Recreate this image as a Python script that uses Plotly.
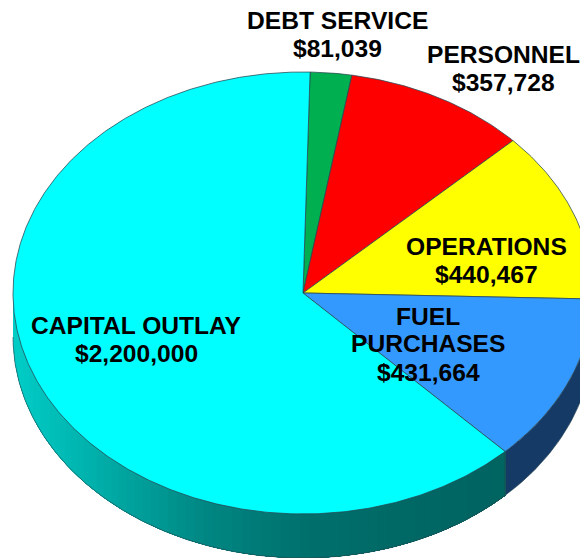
import numpy as np
import plotly.graph_objects as go

categories = ["DEBT SERVICE", "PERSONNEL", "OPERATIONS", "FUEL PURCHASES", "CAPITAL OUTLAY"]
values = [81039, 357728, 440467, 431664, 2200000]
value_labels = ["$81,039", "$357,728", "$440,467", "$431,664", "$2,200,000"]
colors = ["#00b050", "#ff0000", "#ffff00", "#3399ff", "#00ffff"]

# Projection of the tilted disc, in picture pixels
CX, CY, RX, RY, DEPTH = 303.0, 293.0, 290.0, 221.0, 44.0
START_DEG = 1.4
EDGE = "rgba(40,70,80,0.75)"


def ex(t):
    return CX + RX * np.sin(np.radians(t))


def ey(t, drop=0.0):
    return CY - RY * np.cos(np.radians(t)) + drop


def arc(a, b):
    n = max(3, int(abs(b - a) * 2))
    return np.linspace(a, b, n)


shares = np.array(values, dtype=float) / sum(values)
ends = START_DEG + np.cumsum(shares) * 360.0
starts = ends - shares * 360.0

fig = go.Figure()


def side(a, b, color):
    t = arc(a, b)
    xs = np.r_[ex(t), ex(t[::-1])]
    ys = np.r_[ey(t), ey(t[::-1], DEPTH)]
    fig.add_trace(go.Scatter(
        x=np.r_[xs, xs[0]], y=np.r_[ys, ys[0]], mode="lines", fill="toself",
        fillcolor=color, hoverinfo="skip", showlegend=False,
        line=dict(color=color, width=0),
    ))


# Fuel wall: visible from the rim's right extreme to its boundary with capital
side(90, ends[3], "#163a66")

# Capital wall: layered from light (left) to dark (right) so no seams show
shade_stops_x = [13, 100, 200, 300, 400, 503]
shade_stops_g = [205, 172, 135, 112, 104, 100]
bands = np.linspace(270, ends[3], 70)
for b in bands[:-1]:
    xm = ex(b)
    g = np.interp(xm, shade_stops_x, shade_stops_g)
    side(ends[3], b, f"rgb(0,{g:.0f},{g * 0.97:.0f})")

# Outline of the wall's lower rim and the seam between the two walls
t = arc(90, 270)
fig.add_trace(go.Scatter(x=ex(t), y=ey(t, DEPTH), mode="lines", hoverinfo="skip",
                         showlegend=False, line=dict(color="rgba(40,70,80,0.6)", width=1)))
seam = ends[3]
fig.add_trace(go.Scatter(x=[ex(seam), ex(seam)], y=[ey(seam), ey(seam, DEPTH)], mode="lines",
                         hoverinfo="skip", showlegend=False, line=dict(color=EDGE, width=1)))

# Top face wedges
for name, val, s, e, c in zip(categories, values, starts, ends, colors):
    t = arc(s, e)
    fig.add_trace(go.Scatter(
        x=np.r_[CX, ex(t), CX], y=np.r_[CY, ey(t), CY], mode="lines", fill="toself",
        fillcolor=c, line=dict(color=EDGE, width=1), name=name,
        text=f"{name}: ${val:,}", hoverinfo="text", showlegend=False,
    ))

# One annotation per text line, because the reference's line spacing is tight
label_lines = [
    (337, 20, "DEBT SERVICE"), (337, 48, value_labels[0]),
    (503, 54, "PERSONNEL"), (503, 82, value_labels[1]),
    (486, 246, "OPERATIONS"), (486, 274, value_labels[2]),
    (428, 316, "FUEL"), (428, 343, "PURCHASES"), (428, 372, value_labels[3]),
    (136, 325, "CAPITAL OUTLAY"), (136, 353, value_labels[4]),
]
for x, y, txt in label_lines:
    fig.add_annotation(x=x, y=y, text="<b>" + txt + "</b>", showarrow=False, xanchor="center",
                       yanchor="middle", align="center",
                       font=dict(family="Liberation Sans", size=24.6, color="#000"))

fig.update_layout(
    width=580, height=558, margin=dict(l=0, r=0, t=0, b=0),
    paper_bgcolor="white", plot_bgcolor="white",
    xaxis=dict(range=[0, 580], visible=False, fixedrange=True),
    yaxis=dict(range=[558, 0], visible=False, fixedrange=True),
    font=dict(family="Liberation Sans"),
)
fig.write_html("out.html", config={"displayModeBar": False},
               post_script="document.body.style.margin='0';document.documentElement.style.overflow='hidden';")
